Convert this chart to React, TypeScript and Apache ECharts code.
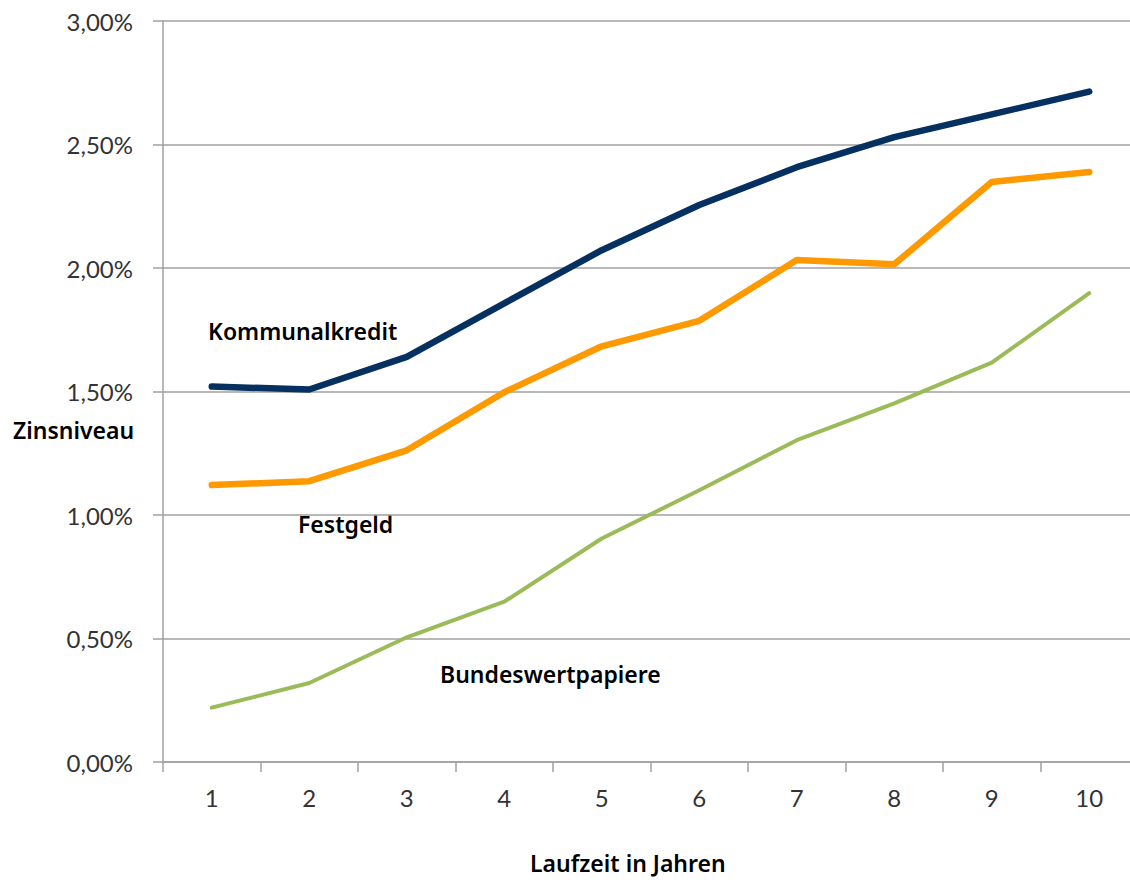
import React, { useEffect, useRef } from "react";
import * as echarts from "echarts";

const categories = ["1", "2", "3", "4", "5", "6", "7", "8", "9", "10"];
const kommunalkredit = [1.52, 1.508, 1.64, 1.857, 2.072, 2.255, 2.408, 2.53, 2.622, 2.714];
const festgeld = [1.121, 1.137, 1.262, 1.497, 1.683, 1.786, 2.032, 2.015, 2.348, 2.389];
const bundeswertpapiere = [0.22, 0.32, 0.505, 0.649, 0.905, 1.1, 1.303, 1.452, 1.617, 1.898];
const yTicks = [0, 0.5, 1, 1.5, 2, 2.5, 3];

const seriesNames = ["Kommunalkredit", "Festgeld", "Bundeswertpapiere"];
const seriesColors = ["#06305f", "#ff9900", "#9bbb59"];

export default function App() {
  const ref = useRef<HTMLDivElement>(null);
  useEffect(() => {
    if (!ref.current) return;
    const chart = echarts.init(ref.current, undefined, { renderer: "svg" });
    const labelFont = '"Noto Sans", "DejaVu Sans", sans-serif';
    const tickFont = 'Lato, "Noto Sans", sans-serif';
    chart.setOption({
      animation: false,
      backgroundColor: "#ffffff",
      grid: { left: 163, top: 21, right: 8, bottom: 121 },
      xAxis: {
        type: "category",
        data: categories,
        boundaryGap: true,
        axisLine: { show: true, lineStyle: { color: "#a0a0a0", width: 1.5 } },
        axisTick: { show: true, length: 10, lineStyle: { color: "#a0a0a0", width: 1.5 } },
        axisLabel: { color: "#333333", fontSize: 24, fontFamily: tickFont, margin: 23 },
        splitLine: { show: false },
      },
      yAxis: {
        type: "value",
        min: yTicks[0],
        max: yTicks[yTicks.length - 1],
        interval: 0.5,
        axisLine: { show: true, lineStyle: { color: "#a0a0a0", width: 1.5 } },
        axisTick: { show: true, length: 10, lineStyle: { color: "#a0a0a0", width: 1.5 } },
        axisLabel: {
          color: "#333333",
          fontSize: 24,
          fontFamily: tickFont,
          margin: 30,
          formatter: (v: number) => v.toFixed(2).replace(".", ",") + "%",
        },
        splitLine: { show: true, lineStyle: { color: "#a0a0a0", width: 1.5 } },
      },
      series: [kommunalkredit, festgeld, bundeswertpapiere].map((d, i) => ({
        name: seriesNames[i],
        type: "line",
        data: d,
        symbol: "none",
        smooth: false,
        lineStyle: {
          color: seriesColors[i],
          width: i === 2 ? 4 : 6.5,
          cap: "round",
          join: "round",
        },
        z: 3 - i,
      })),
      graphic: [
        {
          type: "text",
          left: 208,
          top: 319,
          style: { text: "Kommunalkredit", font: `600 23px ${labelFont}`, fill: "#000" },
        },
        {
          type: "text",
          left: 298,
          top: 512,
          style: { text: "Festgeld", font: `600 23px ${labelFont}`, fill: "#000" },
        },
        {
          type: "text",
          left: 440,
          top: 662,
          style: { text: "Bundeswertpapiere", font: `600 23px ${labelFont}`, fill: "#000" },
        },
        {
          type: "text",
          left: 13,
          top: 418,
          style: { text: "Zinsniveau", font: `600 23px ${labelFont}`, fill: "#000" },
        },
        {
          type: "text",
          left: 530,
          top: 851,
          style: { text: "Laufzeit in Jahren", font: `600 23px ${labelFont}`, fill: "#000" },
        },
      ],
    });
    return () => chart.dispose();
  }, []);
  return (
    <div style={{ position: "fixed", left: 0, top: 0, width: 1130, height: 883, overflow: "hidden", background: "#fff" }}>
      <div ref={ref} style={{ width: 1146, height: 883 }} />
    </div>
  );
}
